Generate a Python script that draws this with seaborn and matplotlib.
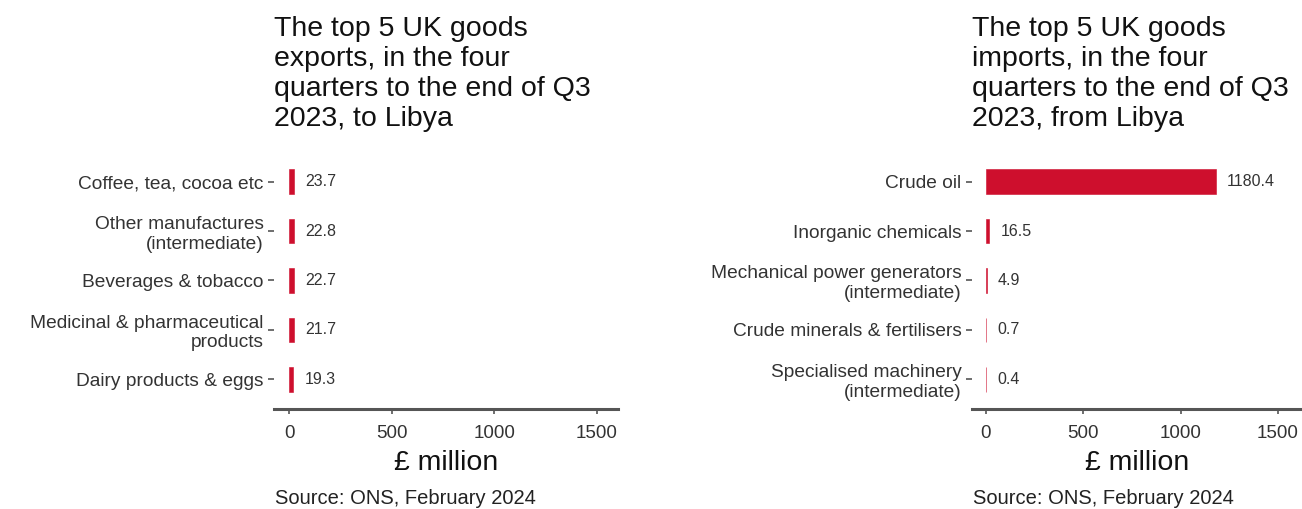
import pandas as pd
import seaborn as sns
import matplotlib.pyplot as plt

export_goods = ["Coffee, tea, cocoa etc", "Other manufactures\n(intermediate)", "Beverages & tobacco",
                "Medicinal & pharmaceutical\nproducts", "Dairy products & eggs"]
export_values = [23.7, 22.8, 22.7, 21.7, 19.3]

import_goods = ["Crude oil", "Inorganic chemicals", "Mechanical power generators\n(intermediate)",
                "Crude minerals & fertilisers", "Specialised machinery\n(intermediate)"]
import_values = [1180.4, 16.5, 4.9, 0.7, 0.4]

titles = ["The top 5 UK goods\nexports, in the four\nquarters to the end of Q3\n2023, to Libya",
          "The top 5 UK goods\nimports, in the four\nquarters to the end of Q3\n2023, from Libya"]
x_ticks = [0, 500, 1000, 1500]

if __name__ == "__main__":
    sns.set_theme(style="white")
    plt.rcParams["font.family"] = ["Liberation Sans", "DejaVu Sans"]

    fig = plt.figure(figsize=(13.02, 5.09), dpi=100)
    ax_exp = fig.add_axes([0.2104, 0.1965, 0.2642, 0.505])
    ax_imp = fig.add_axes([0.7465, 0.1965, 0.2535, 0.505])

    panels = [
        (ax_exp, export_goods, export_values, (-75, 1603), titles[0]),
        (ax_imp, import_goods, import_values, (-72, 1623), titles[1]),
    ]

    for ax, goods, values, xlim, title in panels:
        df = pd.DataFrame({"Goods": goods, "Value": values})
        sns.barplot(df, x="Value", y="Goods", orient="h", color="#ce0f2d", width=0.5,
                    saturation=1, edgecolor="#ce0f2d", linewidth=0.4, ax=ax)

        for i, v in enumerate(values):
            ax.annotate(f"{v:.1f}", (v, i), xytext=(8, 0), textcoords="offset points",
                        va="center", ha="left", fontsize=11.5, color="#333333")

        ax.set_xlim(*xlim)
        ax.set_ylim(4.6, -0.6)
        ax.set_xticks(x_ticks)
        ax.set_xticklabels([str(t) for t in x_ticks])
        for lbl in ax.get_yticklabels():
            lbl.set_linespacing(1.2)

        for s in ["top", "right", "left"]:
            ax.spines[s].set_visible(False)
        ax.spines["bottom"].set_color("#555555")
        ax.spines["bottom"].set_linewidth(2.2)

        ax.tick_params(axis="x", bottom=True, length=3.5, width=1.2, color="#555555",
                       labelsize=13.5, labelcolor="#333333", pad=8)
        ax.tick_params(axis="y", left=True, length=4.5, width=1.2, color="#555555",
                       labelsize=13.8, labelcolor="#333333", pad=3)

        ax.set_xlabel("£ million", fontsize=20.5, color="#111111", labelpad=6)
        ax.set_ylabel("")

        pos = ax.get_position()
        fig.text(pos.x0, 1 - 16 / 509, title, ha="left", va="top", fontsize=20.5,
                 color="#111111", linespacing=1.2)
        fig.text(pos.x0 + 0.001, 1 - 498 / 509, "Source: ONS, February 2024", ha="left",
                 va="center", fontsize=14.5, color="#222222")

    plt.savefig("out.png", dpi=100)
